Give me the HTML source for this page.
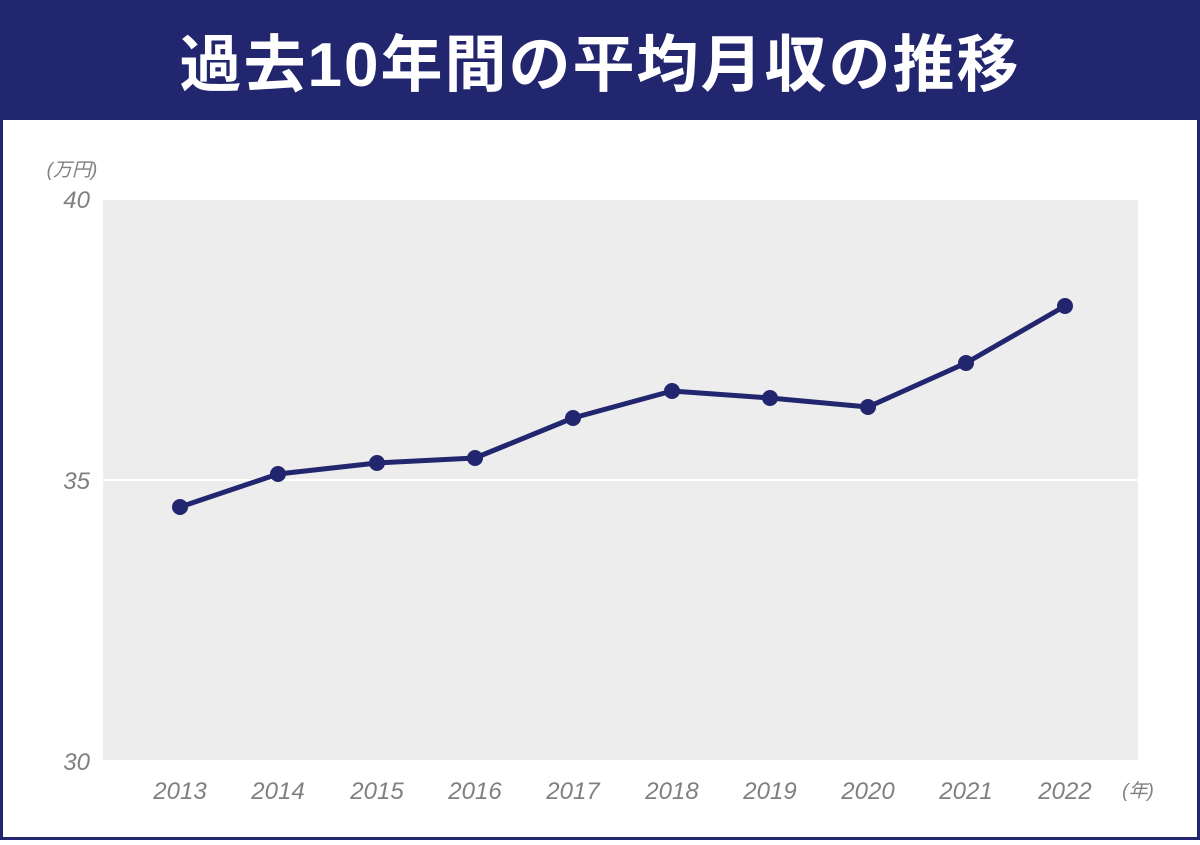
<!DOCTYPE html>
<html><head><meta charset="utf-8"><style>
body{margin:0;width:1200px;height:840px;overflow:hidden;background:#fff;}
</style></head><body>
<svg width="1200" height="840" xmlns="http://www.w3.org/2000/svg" font-family="Liberation Sans, Noto Sans CJK JP, sans-serif">
<rect x="0" y="0" width="1200" height="840" fill="#21266f"/>
<rect x="3" y="120" width="1194" height="717" fill="#fff"/>
<text x="600" y="86" text-anchor="middle" fill="#fff" font-size="62" font-weight="bold" letter-spacing="2" font-family="Liberation Sans, Noto Sans CJK JP, sans-serif">過去10年間の平均月収の推移</text>
<rect x="103" y="200" width="1035" height="560" fill="#ededed"/>
<line x1="103" y1="480" x2="1138" y2="480" stroke="#fff" stroke-width="2"/>
<g fill="#808080" font-style="italic" font-size="24" text-anchor="end">
<text x="90" y="208">40</text><text x="90" y="489">35</text><text x="90" y="770">30</text>
</g>
<text x="72" y="176" fill="#808080" font-style="italic" font-size="19" text-anchor="middle">(万円)</text>
<g fill="#808080" font-style="italic" font-size="24" text-anchor="middle">
<text x="180" y="799">2013</text><text x="278" y="799">2014</text><text x="377" y="799">2015</text><text x="475" y="799">2016</text><text x="573" y="799">2017</text><text x="672" y="799">2018</text><text x="770" y="799">2019</text><text x="868" y="799">2020</text><text x="966" y="799">2021</text><text x="1065" y="799">2022</text>
</g>
<text x="1138" y="797" fill="#808080" font-style="italic" font-size="19" text-anchor="middle">(年)</text>
<polyline points="180,507 278,474 377,463 475,458 573,418 672,391 770,398 868,407 966,363 1065,306" fill="none" stroke="#21266f" stroke-width="5" stroke-linejoin="round"/>
<g fill="#21266f">
<circle cx="180" cy="507" r="8"/><circle cx="278" cy="474" r="8"/><circle cx="377" cy="463" r="8"/><circle cx="475" cy="458" r="8"/><circle cx="573" cy="418" r="8"/><circle cx="672" cy="391" r="8"/><circle cx="770" cy="398" r="8"/><circle cx="868" cy="407" r="8"/><circle cx="966" cy="363" r="8"/><circle cx="1065" cy="306" r="8"/>
</g>
</svg>
</body></html>
